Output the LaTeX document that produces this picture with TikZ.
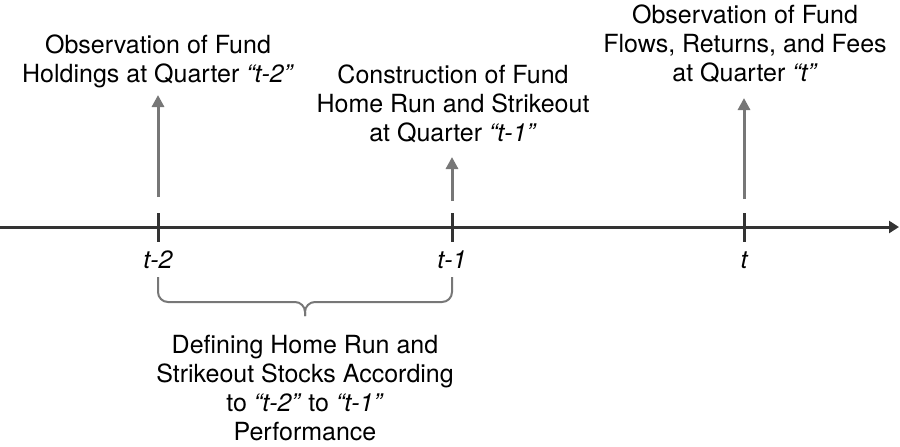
\documentclass[tikz,border=0pt]{standalone}
\usepackage{fontspec}
\setmainfont{TeX Gyre Heros}
\usetikzlibrary{arrows.meta,positioning}
\definecolor{axisgray}{HTML}{333333}
\definecolor{arrowgray}{HTML}{777777}
\tikzstyle{caption}=[align=center,inner sep=0pt,text=black,font=\fontsize{12.5}{14.5}\selectfont]
\tikzstyle{ticklabel}=[inner sep=0pt,font=\fontsize{12.5}{14.5}\selectfont\itshape]
\tikzstyle{tick}=[fill=axisgray,inner sep=0pt,minimum width=1.5pt,minimum height=14.5pt]

\begin{document}
\begin{tikzpicture}[x=0.5pt,y=-0.5pt,
                    up/.style={arrowgray,line width=1.5pt,-{Triangle[width=6pt,length=6pt]}},
                    axis/.style={axisgray,line width=1.5pt,-{Triangle[width=6pt,length=5pt]}}]
  \useasboundingbox (0,0) rectangle (900,446);

  % time line
  \coordinate (start) at (0,227);
  \coordinate (end)   at (899,227);
  \draw[axis] (start) -- (end);

  \node[tick] (T2) at (158,227.5) {};
  \node[tick] (T1) at (452,227.5) {};
  \node[tick] (T0) at (744,227.5) {};
  \node[ticklabel] (L2) at (158,260) {t-2};
  \node[ticklabel] (L1) at (452,260) {t-1};
  \node[ticklabel] (L0) at (744,260) {t};

  % events above the line
  \node[caption] (H2) at (158,61)  {Observation of Fund\\Holdings at Quarter \textit{``t-2''}};
  \node[caption] (H1) at (453,104) {Construction of Fund\\Home Run and Strikeout\\at Quarter \textit{``t-1''}};
  \node[caption] (H0) at (745,44)  {Observation of Fund\\Flows, Returns, and Fees\\at Quarter \textit{``t''}};

  \coordinate (b2) at (158,197);  \coordinate (a2) at (158,95);
  \coordinate (b1) at (452,201);  \coordinate (a1) at (452,157);
  \coordinate (b0) at (744,199);  \coordinate (a0) at (744,98);
  \draw[up] (b2) -- (a2);
  \draw[up] (b1) -- (a1);
  \draw[up] (b0) -- (a0);

  % brace between t-2 and t-1
  \coordinate (br2) at (158,277);
  \coordinate (br1) at (452,277);
  \coordinate (bm)  at (305,302);
  \coordinate (bt)  at (305,316);
  \draw[arrowgray,line width=1pt,rounded corners=5pt] (br2) |- (bm) -- (bt);
  \draw[arrowgray,line width=1pt,rounded corners=5pt] (br1) |- (bm) -- (bt);

  \node[caption] (D) at (305,388) {Defining Home Run and\\Strikeout Stocks According\\to \textit{``t-2''} to \textit{``t-1''}\\Performance};
\end{tikzpicture}
\end{document}
